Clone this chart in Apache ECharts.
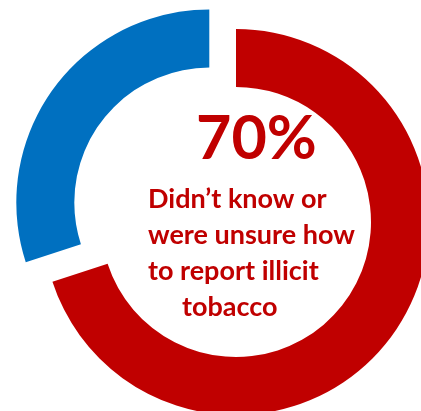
<!DOCTYPE html>
<html>
<head>
<meta charset="utf-8">
<script src="https://cdn.jsdelivr.net/npm/echarts@6/dist/echarts.min.js"></script>
<style>
  html, body { margin: 0; padding: 0; background: #fff; }
  #chart { width: 421px; height: 411px; }
</style>
</head>
<body>
<div id="chart"></div>
<script>
// Share of respondents, reporting knowledge
const categories = ['Didn\u2019t know or were unsure', 'Knew how to report'];
const values = [70, 30];
const colors = ['#C00000', '#0070C0'];
const headline = '70%';
const captionLines = ['Didn\u2019t know or', 'were unsure how', 'to report illicit', 'tobacco'];

const chart = echarts.init(document.getElementById('chart'), null, { renderer: 'canvas' });

const fontFamily = 'Lato, "Open Sans", sans-serif';
// left edge of each caption line (last line is indented)
const captionLeft = [148, 148, 148, 182];

const graphics = [{
  type: 'text',
  left: 196,
  top: 109,
  style: {
    text: headline,
    font: 'bold 61px ' + fontFamily,
    fill: '#C00000'
  }
}];
captionLines.forEach(function (line, i) {
  graphics.push({
    type: 'text',
    left: captionLeft[i],
    top: 186 + i * 36,
    style: {
      text: line,
      font: 'bold 27px ' + fontFamily,
      fill: '#C00000'
    }
  });
});

chart.setOption({
  animation: false,
  series: [{
    type: 'pie',
    center: [236, 222],
    radius: [135, 193],
    startAngle: 90,
    clockwise: true,
    selectedMode: 'single',
    selectedOffset: 33,
    label: { show: false },
    labelLine: { show: false },
    emphasis: { disabled: true },
    data: categories.map(function (name, i) {
      return {
        name: name,
        value: values[i],
        selected: i === 1,
        itemStyle: { color: colors[i] }
      };
    })
  }],
  graphic: graphics
});
</script>
</body>
</html>
